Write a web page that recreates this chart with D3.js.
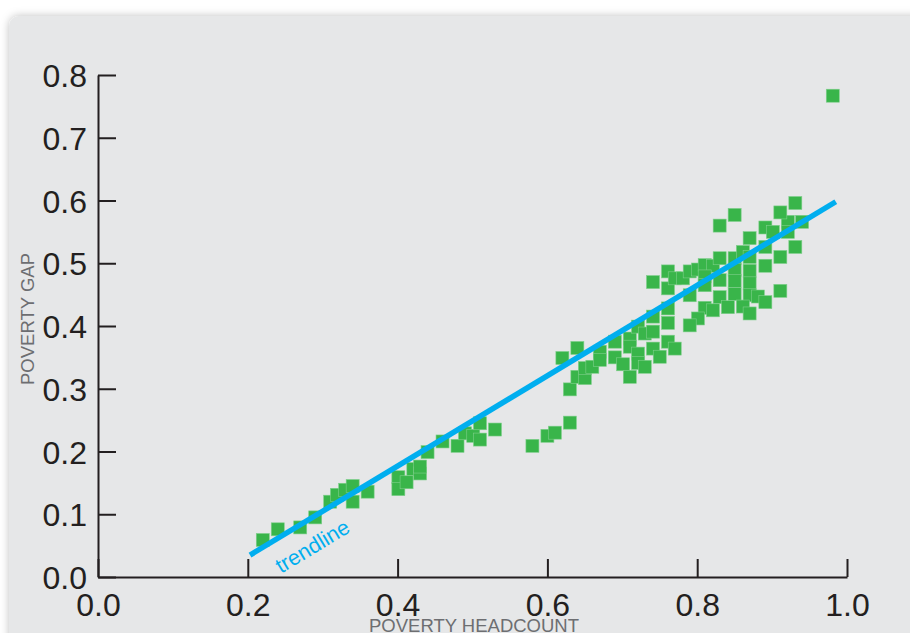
<!DOCTYPE html>
<html>
    <head>
        <style>
            body { margin: 0; background: #fff; }
            .tick text { font-family: "Liberation Sans", Arial, sans-serif; font-size: 32px; fill: #231f20; }
            .axis-title { font-family: "Liberation Sans", Arial, sans-serif; font-size: 18.5px; fill: #6d6e71; }
        </style>
        <script src="https://d3js.org/d3.v7.min.js"></script>
    </head>
    <body>
        <svg width="910" height="633"></svg>
        <script>
            // poverty headcount (x) and poverty gap (y)
            var headcount = [0.220, 0.240, 0.270, 0.290, 0.310, 0.319, 0.330, 0.340, 0.340, 0.360,
                0.401, 0.401, 0.412, 0.421, 0.430, 0.430, 0.440, 0.460, 0.480, 0.490,
                0.501, 0.510, 0.510, 0.530, 0.580, 0.600, 0.610, 0.630, 0.630, 0.620,
                0.640, 0.640, 0.650, 0.650, 0.660, 0.670, 0.670, 0.690, 0.690, 0.701,
                0.710, 0.710, 0.710, 0.721, 0.721, 0.721, 0.730, 0.730, 0.741, 0.741,
                0.741, 0.750, 0.761, 0.761, 0.761, 0.770, 0.741, 0.761, 0.761, 0.770,
                0.781, 0.790, 0.801, 0.810, 0.821, 0.830, 0.850, 0.861, 0.870, 0.790,
                0.810, 0.810, 0.830, 0.830, 0.850, 0.850, 0.850, 0.870, 0.870, 0.870,
                0.881, 0.891, 0.861, 0.870, 0.810, 0.821, 0.841, 0.801, 0.790, 0.850,
                0.830, 0.870, 0.891, 0.901, 0.921, 0.921, 0.911, 0.931, 0.940, 0.891,
                0.931, 0.911, 0.891, 0.911, 0.981];
            var gap = [0.059, 0.076, 0.079, 0.095, 0.120, 0.131, 0.139, 0.145, 0.120, 0.136,
                0.159, 0.140, 0.151, 0.172, 0.165, 0.176, 0.199, 0.216, 0.209, 0.229,
                0.225, 0.245, 0.219, 0.235, 0.209, 0.225, 0.230, 0.246, 0.299, 0.349,
                0.365, 0.319, 0.317, 0.333, 0.335, 0.359, 0.346, 0.375, 0.350, 0.339,
                0.319, 0.380, 0.367, 0.399, 0.356, 0.341, 0.335, 0.388, 0.415, 0.391,
                0.364, 0.351, 0.428, 0.405, 0.375, 0.364, 0.470, 0.487, 0.460, 0.476,
                0.476, 0.487, 0.490, 0.497, 0.496, 0.508, 0.508, 0.518, 0.510, 0.449,
                0.479, 0.465, 0.473, 0.446, 0.489, 0.472, 0.451, 0.488, 0.468, 0.449,
                0.447, 0.438, 0.431, 0.420, 0.429, 0.425, 0.430, 0.412, 0.401, 0.577,
                0.560, 0.540, 0.557, 0.550, 0.566, 0.550, 0.581, 0.596, 0.566, 0.526,
                0.526, 0.510, 0.496, 0.456, 0.767];
            var trendX = [0.203, 0.985];
            var trendY = [0.035, 0.598];
            var xTicks = [0, 0.2, 0.4, 0.6, 0.8, 1.0];
            var yTicks = [0, 0.1, 0.2, 0.3, 0.4, 0.5, 0.6, 0.7, 0.8];

            var svg = d3.select("svg");

            var defs = svg.append("defs");
            var shadow = defs.append("filter").attr("id", "shadow")
                .attr("x", "-5%").attr("y", "-5%").attr("width", "110%").attr("height", "110%");
            shadow.append("feDropShadow")
                .attr("dx", 0).attr("dy", 0).attr("stdDeviation", 4)
                .attr("flood-color", "#000").attr("flood-opacity", 0.25);

            // grey panel
            svg.append("rect")
               .attr("x", 9).attr("y", 16)
               .attr("width", 940).attr("height", 660)
               .attr("rx", 10)
               .attr("fill", "#e6e7e8")
               .attr("filter", "url(#shadow)");

            var x = d3.scaleLinear().domain([0, 1]).range([98, 847]);
            var y = d3.scaleLinear().domain([0, 0.8]).range([577, 75]);

            var xAxis = svg.append("g")
               .attr("transform", "translate(0," + y(0) + ")")
               .call(d3.axisBottom(x).tickValues(xTicks).tickSize(-18).tickSizeOuter(0)
                     .tickFormat(d3.format(".1f")));
            xAxis.selectAll(".tick text").attr("y", 39).attr("dy", 0);

            var yAxis = svg.append("g")
               .attr("transform", "translate(" + x(0) + ",0)")
               .call(d3.axisLeft(y).tickValues(yTicks).tickSize(-18).tickSizeOuter(0)
                     .tickFormat(d3.format(".1f")));
            yAxis.selectAll(".tick text").attr("x", -11).attr("dy", "0.36em");

            svg.selectAll(".domain, .tick line")
               .attr("stroke", "#231f20").attr("stroke-width", 2);
            svg.selectAll(".tick text").attr("font-family", null).attr("font-size", null);

            // points
            var pts = headcount.map(function(d, i){ return [d, gap[i]]; });
            var s = 13;
            svg.append("g").selectAll("rect")
               .data(pts)
               .enter().append("rect")
               .attr("x", function(d){ return x(d[0]) - s/2; })
               .attr("y", function(d){ return y(d[1]) - s/2; })
               .attr("width", s).attr("height", s)
               .attr("fill", "#39b54a")
               .attr("stroke", "#7fcf8b")
               .attr("stroke-width", 0.6);

            // trendline
            svg.append("line")
               .attr("x1", x(trendX[0])).attr("y1", y(trendY[0]))
               .attr("x2", x(trendX[1])).attr("y2", y(trendY[1]))
               .attr("stroke", "#00aeef")
               .attr("stroke-width", 5.5);

            var ang = Math.atan2(y(trendY[1]) - y(trendY[0]), x(trendX[1]) - x(trendX[0])) * 180 / Math.PI;
            svg.append("text")
               .attr("transform", "translate(" + x(0.2443) + "," + y(0.005) + ") rotate(" + ang + ")")
               .attr("font-family", "Liberation Sans, Arial, sans-serif")
               .attr("font-size", 21.5)
               .attr("fill", "#00aeef")
               .text("trendline");

            svg.append("text")
               .attr("class", "axis-title")
               .attr("x", 474).attr("y", 632)
               .attr("text-anchor", "middle")
               .text("POVERTY HEADCOUNT");

            svg.append("text")
               .attr("class", "axis-title")
               .attr("transform", "translate(34,319) rotate(-90)")
               .attr("text-anchor", "middle")
               .text("POVERTY GAP");
        </script>
    </body>
</html>
